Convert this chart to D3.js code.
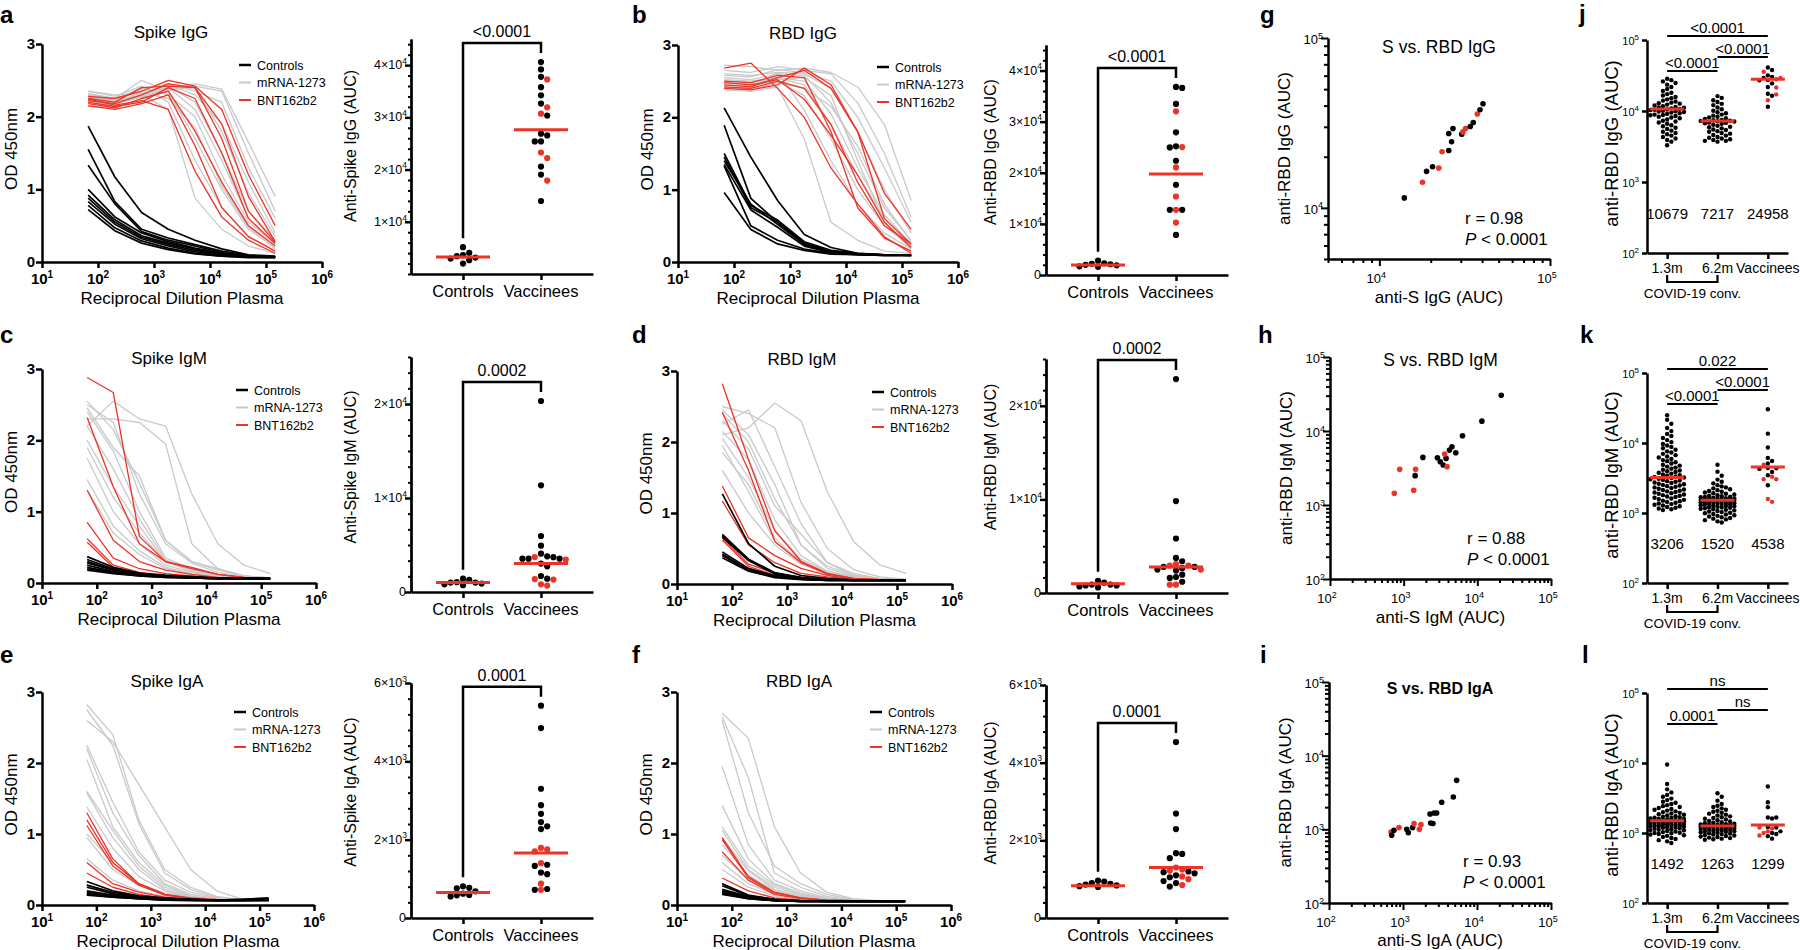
<!DOCTYPE html>
<html><head><meta charset="utf-8">
<script src="https://cdn.jsdelivr.net/npm/d3@7"></script>
<style>
body{margin:0;background:#fff}
svg{font-family:"Liberation Sans",Arial,Helvetica,sans-serif}
</style></head><body>
<svg id="fig" width="1800" height="950"></svg>
<script>
const RED = "#ec3327", GRAY = "#c9c9c9";
// ---------- line chart data (OD450 at each dilution) ----------
const dilutions = [66.7, 200, 600, 1800, 5400, 16200, 48600, 145800];
const decades = [10, 100, 1000, 10000, 100000, 1000000];

const spikeIgG_ctrl = [
[1.87,1.17,0.68,0.45,0.30,0.18,0.10,0.08],[1.55,0.83,0.45,0.33,0.24,0.15,0.09,0.07],
[1.33,0.80,0.42,0.30,0.22,0.13,0.08,0.07],[1.00,0.62,0.40,0.28,0.19,0.12,0.08,0.07],
[0.92,0.58,0.36,0.26,0.18,0.11,0.08,0.07],[0.88,0.55,0.34,0.24,0.16,0.10,0.07,0.07],
[0.83,0.52,0.32,0.22,0.14,0.09,0.07,0.07],[0.78,0.47,0.29,0.19,0.12,0.08,0.07,0.06],
[0.72,0.43,0.26,0.17,0.11,0.08,0.06,0.06]];
const spikeIgG_mrna = [
[2.35,2.30,2.32,2.40,2.45,2.38,1.65,0.90],[2.30,2.25,2.50,2.35,2.42,2.35,1.50,0.70],
[2.28,2.20,2.30,2.45,2.35,2.20,1.30,0.60],[2.25,2.18,2.28,2.38,2.40,1.80,0.95,0.35],
[2.22,2.15,2.35,2.42,2.20,1.50,0.70,0.30],[2.30,2.22,2.40,2.30,2.00,1.20,0.55,0.25],
[2.20,2.12,2.25,2.35,1.70,1.00,0.45,0.20],[2.35,2.28,2.42,2.20,1.40,0.75,0.35,0.15],
[2.26,2.20,2.30,2.10,0.88,0.45,0.22,0.12],[2.32,2.25,2.38,2.45,2.30,1.90,1.10,0.40],
[2.24,2.18,2.27,2.40,2.10,1.40,0.60,0.25],[2.28,2.20,2.33,2.25,1.85,1.05,0.48,0.18]];
const spikeIgG_bnt = [
[2.28,2.25,2.35,2.50,2.42,2.10,1.20,0.50],[2.22,2.18,2.30,2.45,2.40,1.70,0.70,0.27],
[2.20,2.14,2.20,2.40,2.25,1.50,0.60,0.25],[2.18,2.12,2.25,2.35,1.80,1.10,0.50,0.22],
[2.15,2.10,2.18,2.30,1.60,0.75,0.35,0.15],[2.25,2.20,2.40,2.42,2.40,1.90,0.90,0.28],
[2.24,2.16,2.22,2.10,1.25,0.62,0.30,0.12]];

const rbdIgG_ctrl = [
[2.13,1.45,0.85,0.38,0.20,0.12,0.10,0.10],[1.89,0.88,0.55,0.25,0.15,0.11,0.10,0.10],
[1.50,0.78,0.58,0.28,0.16,0.12,0.10,0.10],[1.45,0.75,0.55,0.26,0.15,0.11,0.10,0.09],
[1.40,0.80,0.52,0.24,0.14,0.11,0.10,0.09],[1.35,0.72,0.48,0.22,0.13,0.10,0.09,0.09],
[1.33,0.50,0.30,0.18,0.12,0.10,0.09,0.09],[0.96,0.45,0.25,0.16,0.11,0.10,0.09,0.09]];
const rbdIgG_mrna = [
[2.72,2.70,2.65,2.68,2.62,2.42,1.90,0.85],[2.65,2.62,2.70,2.65,2.60,2.20,1.50,0.62],
[2.60,2.58,2.62,2.60,2.40,1.80,1.00,0.40],[2.55,2.52,2.60,2.58,2.20,1.50,0.75,0.30],
[2.50,2.48,2.55,2.50,2.05,1.30,0.65,0.25],[2.45,2.44,2.50,2.30,1.70,1.00,0.50,0.20],
[2.40,2.40,2.62,2.10,1.40,0.80,0.40,0.18],[2.38,2.36,2.42,1.70,0.55,0.30,0.15,0.12],
[2.52,2.50,2.55,2.45,1.90,1.20,0.60,0.22],[2.42,2.38,2.48,2.40,2.15,1.60,0.80,0.28],
[2.48,2.46,2.52,2.55,2.30,1.40,0.55,0.18],[2.58,2.56,2.66,2.62,2.50,2.00,1.30,0.55]];
const rbdIgG_bnt = [
[2.68,2.75,2.40,2.00,1.30,0.80,0.35,0.12],[2.48,2.45,2.52,2.25,1.75,1.20,0.55,0.20],
[2.45,2.42,2.55,2.65,2.40,1.80,0.95,0.45],[2.42,2.40,2.50,2.40,1.90,1.10,0.50,0.25],
[2.40,2.38,2.45,2.68,2.45,1.80,0.60,0.25],[2.50,2.48,2.58,2.55,1.80,0.75,0.33,0.15]];

const spikeIgM_ctrl = [
[0.37,0.22,0.14,0.11,0.09,0.07,0.06,0.06],[0.33,0.20,0.13,0.10,0.08,0.07,0.06,0.06],
[0.30,0.19,0.12,0.10,0.08,0.07,0.06,0.06],[0.28,0.18,0.12,0.09,0.08,0.07,0.06,0.06],
[0.25,0.16,0.11,0.09,0.07,0.06,0.06,0.06],[0.22,0.15,0.11,0.09,0.07,0.06,0.06,0.06],
[0.20,0.14,0.10,0.08,0.07,0.06,0.06,0.06],[0.18,0.13,0.10,0.08,0.07,0.06,0.06,0.06]];
const spikeIgM_mrna = [
[2.20,2.55,2.30,2.20,1.25,0.55,0.25,0.13],[2.55,2.15,1.40,0.60,0.30,0.18,0.10,0.07],
[2.50,2.25,1.25,0.55,0.28,0.15,0.09,0.07],[2.40,1.85,1.00,0.35,0.20,0.12,0.08,0.06],
[2.30,2.30,2.25,1.95,0.55,0.20,0.10,0.07],[2.20,1.60,0.90,0.32,0.18,0.10,0.08,0.06],
[2.00,1.35,0.80,0.30,0.18,0.10,0.07,0.06],[1.90,1.20,0.70,0.30,0.16,0.10,0.07,0.06],
[1.75,1.00,0.55,0.25,0.15,0.09,0.07,0.06],[1.45,0.80,0.45,0.22,0.13,0.08,0.06,0.06],
[1.30,0.70,0.40,0.20,0.12,0.08,0.06,0.06],[2.45,1.90,1.50,0.60,0.30,0.20,0.10,0.07]];
const spikeIgM_bnt = [
[2.88,2.67,0.65,0.30,0.22,0.12,0.08,0.07],[2.32,1.35,0.55,0.30,0.20,0.12,0.08,0.07],
[1.30,0.60,0.30,0.18,0.12,0.08,0.07,0.06],[0.85,0.35,0.20,0.13,0.10,0.07,0.06,0.06],
[0.62,0.25,0.15,0.10,0.08,0.07,0.06,0.06],[0.57,0.22,0.13,0.09,0.07,0.06,0.06,0.06]];

const rbdIgM_ctrl = [
[1.27,0.57,0.25,0.12,0.08,0.06,0.05,0.05],[0.70,0.35,0.16,0.09,0.06,0.05,0.05,0.05],
[0.68,0.34,0.15,0.09,0.06,0.05,0.05,0.05],[0.66,0.33,0.14,0.08,0.06,0.05,0.05,0.05],
[0.45,0.22,0.12,0.08,0.06,0.05,0.05,0.05],[0.42,0.20,0.11,0.07,0.05,0.05,0.05,0.05],
[0.40,0.19,0.10,0.07,0.05,0.05,0.05,0.05],[0.37,0.18,0.09,0.06,0.05,0.05,0.05,0.05]];
const rbdIgM_mrna = [
[2.10,2.20,2.55,2.30,1.30,0.60,0.27,0.15],[2.25,2.45,1.65,0.85,0.30,0.15,0.08,0.06],
[2.50,2.40,2.20,1.15,0.50,0.20,0.10,0.07],[2.40,2.00,1.20,0.55,0.25,0.13,0.08,0.06],
[2.05,1.50,0.75,0.35,0.18,0.10,0.07,0.06],[1.85,1.40,0.65,0.30,0.15,0.09,0.07,0.06],
[1.60,1.00,0.55,0.28,0.14,0.08,0.06,0.06],[2.15,1.75,0.90,0.40,0.18,0.10,0.07,0.06],
[2.30,1.90,1.10,0.70,0.30,0.12,0.07,0.06],[1.95,1.30,0.60,0.32,0.16,0.09,0.06,0.05],
[2.45,2.10,1.40,0.55,0.22,0.11,0.07,0.06]];
const rbdIgM_bnt = [
[2.82,1.75,0.75,0.32,0.15,0.08,0.06,0.06],[2.42,1.60,0.60,0.30,0.14,0.08,0.06,0.06],
[1.38,0.65,0.40,0.22,0.12,0.07,0.06,0.05],[1.17,0.55,0.30,0.15,0.10,0.07,0.06,0.05],
[0.65,0.28,0.15,0.10,0.07,0.06,0.05,0.05],[0.62,0.25,0.12,0.08,0.06,0.05,0.05,0.05]];

const spikeIgA_ctrl = [
[0.33,0.20,0.13,0.10,0.08,0.07,0.08,0.10],[0.28,0.18,0.12,0.09,0.08,0.07,0.08,0.09],
[0.25,0.16,0.11,0.09,0.08,0.07,0.07,0.09],[0.20,0.14,0.10,0.08,0.07,0.07,0.07,0.08],
[0.18,0.13,0.10,0.08,0.07,0.07,0.07,0.08],[0.16,0.12,0.09,0.08,0.07,0.06,0.07,0.08],
[0.15,0.11,0.09,0.07,0.07,0.06,0.07,0.07],[0.14,0.11,0.09,0.07,0.06,0.06,0.06,0.07]];
const spikeIgA_mrna = [
[2.82,2.40,1.20,0.50,0.25,0.12,0.07,0.05],[2.75,2.25,1.15,0.45,0.22,0.11,0.07,0.05],
[2.60,2.30,1.70,1.10,0.50,0.20,0.08,0.05],[2.25,1.45,0.75,0.35,0.18,0.10,0.07,0.05],
[2.20,1.30,0.70,0.30,0.15,0.09,0.06,0.05],[2.05,1.10,0.60,0.28,0.13,0.08,0.06,0.05],
[1.60,1.05,0.55,0.25,0.12,0.08,0.06,0.05],[1.58,0.95,0.50,0.22,0.11,0.07,0.06,0.05],
[1.38,0.80,0.40,0.20,0.10,0.07,0.06,0.05],[1.00,0.60,0.30,0.17,0.10,0.07,0.06,0.05],
[0.95,0.50,0.28,0.15,0.09,0.07,0.06,0.05],[0.65,0.35,0.20,0.12,0.08,0.07,0.06,0.05]];
const spikeIgA_bnt = [
[1.30,0.65,0.30,0.15,0.10,0.08,0.07,0.06],[1.20,0.60,0.30,0.15,0.09,0.07,0.06,0.06],
[1.12,0.55,0.28,0.14,0.09,0.07,0.06,0.06],[0.60,0.30,0.18,0.11,0.08,0.07,0.06,0.06],
[0.45,0.25,0.15,0.10,0.08,0.07,0.06,0.06],[0.28,0.15,0.10,0.08,0.07,0.06,0.06,0.06]];

const rbdIgA_ctrl = [
[0.30,0.14,0.08,0.06,0.05,0.05,0.05,0.05],[0.27,0.13,0.08,0.06,0.05,0.05,0.05,0.05],
[0.22,0.12,0.07,0.06,0.05,0.05,0.05,0.05],[0.20,0.11,0.07,0.05,0.05,0.05,0.05,0.05],
[0.18,0.10,0.07,0.05,0.05,0.05,0.05,0.05],[0.17,0.10,0.06,0.05,0.05,0.05,0.05,0.05],
[0.16,0.09,0.06,0.05,0.05,0.05,0.05,0.05],[0.15,0.09,0.06,0.05,0.05,0.05,0.05,0.05]];
const rbdIgA_mrna = [
[2.70,2.35,1.10,0.45,0.18,0.09,0.06,0.05],[2.65,1.80,0.45,0.25,0.12,0.07,0.05,0.05],
[2.60,1.30,0.55,0.30,0.15,0.08,0.05,0.05],[1.95,0.85,0.35,0.20,0.10,0.07,0.05,0.05],
[1.40,0.65,0.30,0.17,0.09,0.06,0.05,0.05],[1.10,0.55,0.28,0.15,0.09,0.06,0.05,0.05],
[1.05,0.50,0.25,0.14,0.08,0.06,0.05,0.05],[0.95,0.48,0.22,0.12,0.08,0.06,0.05,0.05],
[0.85,0.42,0.20,0.11,0.07,0.05,0.05,0.05],[0.70,0.35,0.18,0.10,0.07,0.05,0.05,0.05],
[0.60,0.30,0.15,0.09,0.06,0.05,0.05,0.05],[0.50,0.25,0.13,0.08,0.06,0.05,0.05,0.05]];
const rbdIgA_bnt = [
[0.95,0.40,0.18,0.10,0.07,0.06,0.05,0.05],[0.92,0.38,0.17,0.10,0.07,0.06,0.05,0.05],
[0.75,0.35,0.15,0.09,0.07,0.06,0.05,0.05],[0.38,0.20,0.10,0.07,0.06,0.05,0.05,0.05],
[0.30,0.12,0.08,0.06,0.05,0.05,0.05,0.05]];

// ---------- AUC dot plot data ----------
const dotCategories = ["Controls", "Vaccinees"];
const spikeIgG_aucCtrl = [5130,3410,2960,2000,3600,4040,2630,3150];
const spikeIgG_aucVac = [40580,39170,37250,37760,35770,34230,31920,32630,30330,30710,26540,26870,25390,25390,22190,23270,20580,19040,17890,13980];
const spikeIgG_bntFlag = [0,0,1,0,0,0,1,0,0,1,0,0,0,0,1,1,0,0,1,0];
const spikeIgG_median = [3270, 27630];
const rbdIgG_aucCtrl = [2300,2100,1900,1600,1700,2000,2800,2200];
const rbdIgG_aucVac = [36600,36800,33470,32030,27910,25170,24970,25030,22350,21050,17650,15360,12750,12750,12750,10260,7840];
const rbdIgG_bntFlag = [0,0,0,1,0,0,0,1,0,1,0,1,1,0,0,1,0];
const rbdIgG_median = [1960, 19740];
const spikeIgM_aucCtrl = [1280,1000,900,730,820,1000,1050,1420];
const spikeIgM_aucVac = [20320,11350,5960,4930,4080,3800,3700,3720,3550,3550,3540,3450,3020,2730,1700,1420,1380,1320,820,680];
const spikeIgM_bntFlag = [0,0,0,0,0,0,0,1,0,0,0,1,0,0,0,0,1,1,1,1];
const spikeIgM_median = [1000, 3020];
const rbdIgM_aucCtrl = [1100,900,800,600,700,800,900,1300];
const rbdIgM_aucVac = [22860,9820,5820,3750,3390,3100,2930,2930,2790,2790,2650,2500,2500,2400,1960,1700,1610,1200,890,890];
const rbdIgM_bntFlag = [0,0,0,0,0,1,1,1,0,0,0,0,1,0,0,0,0,0,1,1];
const rbdIgM_median = [1000, 2790];
const spikeIgA_aucCtrl = [770,680,810,550,580,620,760,590];
const spikeIgA_aucVac = [5420,4850,3300,2880,2660,2450,2340,2270,1790,1750,1700,1400,1360,1330,1160,1120,876,740,720,720];
const spikeIgA_bntFlag = [0,0,0,0,0,0,0,0,1,1,1,1,0,0,0,0,1,0,1,0];
const spikeIgA_median = [650, 1660];
const rbdIgA_aucCtrl = [960,880,840,800,820,860,940,900];
const rbdIgA_aucVac = [4530,2690,2290,1670,1650,1540,1300,1250,1220,1200,1180,1150,1100,1070,1050,1000,950,900,850,810];
const rbdIgA_bntFlag = [0,0,0,0,0,0,1,1,1,0,0,0,0,1,0,1,0,0,1,0];
const rbdIgA_median = [833, 1300];

// ---------- S vs RBD correlation data ----------
const igG_S = [14000,17900,18900,20500,22300,23300,25500,25500,26500,27000,30400,30900,32000,34100,35500,37500,38900,40500];
const igG_RBD = [11450,14140,16400,17460,17140,21390,21780,27380,24490,29300,27170,28000,29300,30100,31800,35700,37800,41000];
const igG_bnt = [0,1,0,0,1,1,0,0,0,0,0,1,1,0,0,1,0,0];
const igM_S = [746,883,1368,1452,1432,1825,2871,3141,3437,3764,3883,3600,4188,4519,5099,6295,11530,21100];
const igM_RBD = [1442,3034,1581,3034,2494,4395,4353,3847,3469,4266,3296,4878,5521,6124,5083,8610,13590,30400];
const igM_bnt = [1,1,1,1,0,0,0,0,0,0,1,1,0,0,0,0,0,0];
const igA_S = [690,703,755,883,1122,1180,1351,1409,1750,1663,2318,2365,2540,2624,2850,3336,4790,5310];
const igA_RBD = [920,830,968,1055,1000,902,1055,1195,1157,1000,1614,1219,1200,1667,1667,2328,2750,4624];
const igA_bnt = [1,0,0,1,0,0,0,1,1,1,0,0,0,0,0,0,0,0];

// ---------- convalescent vs vaccinee data ----------
const convCategories = ["1.3m", "6.2m", "Vaccinees"];
const igG_conv13 = [28500,27200,26100,24800,23500,21800,20400,19200,18100,17300,16500,15800,15100,14600,14000,13600,13100,12700,12300,12000,11700,11400,11100,10900,10700,10500,10300,10100,9900,9700,9500,9300,9100,8900,8700,8500,8300,8100,7900,7600,7300,7100,6900,6600,6300,6100,5800,5600,5300,5100,4900,4700,4500,4300,4100,3900,3700,3300,12900,9800,11200,8800,10400];
const igG_conv62 = [16200,15300,14200,13400,12600,12100,11200,10600,10100,9600,9300,8900,8600,8300,8100,7900,7700,7500,7400,7300,7200,7100,6900,6800,6600,6400,6200,6000,5900,5700,5500,5400,5200,5100,4900,4800,4600,4500,4300,4200,4100,4000,3900,3800,3800,3700,7250,6700];
const igM_conv13 = [25000,21500,18800,16400,14800,13500,12600,11800,11000,10300,9700,9200,8800,8400,8000,7600,7300,7000,6700,6400,6200,5900,5700,5500,5300,5100,4900,4750,4600,4450,4300,4150,4050,3950,3850,3750,3650,3560,3480,3400,3330,3260,3210,3150,3090,3030,2970,2910,2850,2790,2730,2680,2620,2570,2520,2470,2420,2370,2320,2270,2220,2170,2130,2080,2040,2000,1960,1920,1880,1840,1800,1760,1720,1690,1650,1610,1580,1540,1500,1470,1440,1400,1370,1340,1310,1280,1250,1220,1190,1160,1130,1100];
const igM_conv62 = [4900,3900,3400,3000,2800,2650,2500,2400,2320,2250,2180,2120,2060,2010,1960,1920,1880,1840,1800,1770,1740,1710,1680,1650,1630,1610,1590,1570,1550,1530,1510,1490,1470,1450,1430,1410,1390,1370,1350,1330,1310,1290,1270,1250,1230,1210,1190,1170,1150,1130,1110,1090,1070,1050,1030,1010,990,970,950,930,910,890,870,850,830,810,790,760,730,1600,1520,1480,1560,1440,1620,1700,1380,1260,1340,1200];
const igA_conv13 = [9500,5000,4200,3800,3500,3300,3100,2950,2800,2700,2600,2500,2420,2350,2280,2210,2150,2090,2040,1990,1940,1900,1860,1820,1780,1740,1710,1680,1650,1620,1590,1560,1530,1510,1490,1470,1450,1430,1410,1390,1370,1350,1330,1310,1290,1270,1250,1230,1210,1190,1170,1150,1130,1110,1090,1070,1050,1030,1010,990,970,950,930,910,880,850,820,790,760,720,1500,1520,1480,1460,1540,1420,1360,1280,1320,1200,1100,1000,1250,1600,1640];
const igA_conv62 = [3700,3300,2900,2600,2450,2350,2250,2150,2080,2010,1950,1890,1830,1780,1730,1680,1640,1600,1560,1520,1490,1460,1430,1400,1380,1360,1340,1320,1300,1280,1260,1240,1220,1200,1180,1160,1140,1120,1100,1085,1070,1055,1040,1025,1010,995,980,965,950,935,920,905,890,875,860,845,830,815,800,1270,1250,1230,1290,1310,1210,1190,1150,1330,1110,1060];
const igG_convLine = [10679, 7217, 28000], igG_convLabel = ["10679", "7217", "24958"];
const igM_convLine = [3206, 1520, 4538], igM_convLabel = ["3206", "1520", "4538"];
const igA_convLine = [1492, 1263, 1299], igA_convLabel = ["1492", "1263", "1299"];
const igG_pvals = ["<0.0001", "<0.0001", "<0.0001"];
const igM_pvals = ["0.022", "<0.0001", "<0.0001"];
const igA_pvals = ["ns", "ns", "0.0001"];

// ================= drawing =================
const svg = d3.select("#fig");

function styleAxis(g, w) {
  g.select(".domain").attr("stroke", "#000").attr("stroke-width", w);
  g.selectAll(".tick line").attr("stroke", "#000").attr("stroke-width", w);
}
function txt(p, x, y, s, o = {}) {
  const t = p.append("text").attr("x", x).attr("y", y).attr("font-size", o.size || 14)
    .attr("text-anchor", o.anchor || "start").attr("fill", o.fill || "#000");
  if (o.weight) t.attr("font-weight", o.weight);
  if (o.style) t.attr("font-style", o.style);
  t.text(s);
  return t;
}
function supText(p, x, y, base, sup, size, supSize, anchor, weight) {
  const t = p.append("text").attr("x", x).attr("y", y).attr("font-size", size).attr("text-anchor", anchor);
  if (weight) t.attr("font-weight", weight);
  t.append("tspan").text(base);
  t.append("tspan").attr("font-size", supSize).attr("dy", -size * 0.42).text(sup);
  return t;
}
function vtext(p, cx, cy, s, size) {
  return p.append("text").attr("transform", `translate(${cx},${cy}) rotate(-90)`)
    .attr("text-anchor", "middle").attr("dy", "0.35em").attr("font-size", size).text(s);
}
function letter(x, y, s) { txt(svg, x, y, s, { size: 24, weight: "bold" }); }

function swarmX(vals, yFn, cx, r, step, maxOff) {
  const order = d3.range(vals.length).sort((a, b) => d3.descending(vals[a], vals[b]));
  const placed = [], xs = new Array(vals.length);
  const cands = [0];
  for (let k = 1; k <= Math.floor(maxOff / step); k++) cands.push(k * step, -k * step);
  const minD = 2 * r * 0.98;
  for (const i of order) {
    const py = yFn(vals[i]);
    let chosen = null, bestX = cx, bestD = -1;
    for (const c of cands) {
      const px = cx + c;
      let dmin = Infinity;
      for (const q of placed) { const d = Math.hypot(q[0] - px, q[1] - py); if (d < dmin) dmin = d; }
      if (dmin >= minD) { chosen = px; break; }
      if (dmin > bestD) { bestD = dmin; bestX = px; }
    }
    if (chosen === null) chosen = bestX;
    placed.push([chosen, py]); xs[i] = chosen;
  }
  return xs;
}

// ---- line chart ----
function lineChart(L, title, ctrl, mrna, bnt) {
  const g = svg.append("g");
  const x = d3.scaleLog().domain([10, 1e6]).range([L.x0, L.x1]);
  const y = d3.scaleLinear().domain([0, 3]).range([L.yBot, L.yTop]);
  const line = d3.line().x((d, i) => x(dilutions[i])).y(d => y(d));
  const sets = [[mrna, GRAY, 1.3], [bnt, RED, 1.3], [ctrl, "#000", 1.7]];
  sets.forEach(([data, col, w]) => {
    g.append("g").selectAll("path").data(data).join("path")
      .attr("d", line).attr("fill", "none").attr("stroke", col).attr("stroke-width", w)
      .attr("stroke-linejoin", "round");
  });
  const xa = g.append("g").attr("transform", `translate(0,${L.yBot})`)
    .call(d3.axisBottom(x).tickValues(decades).tickFormat("").tickSize(6).tickSizeOuter(0));
  styleAxis(xa, 2.5);
  const ya = g.append("g").attr("transform", `translate(${L.x0},0)`)
    .call(d3.axisLeft(y).tickValues([0, 1, 2, 3]).tickFormat("").tickSize(6).tickSizeOuter(0));
  styleAxis(ya, 2.5);
  decades.forEach(d => supText(g, x(d), L.yBot + 22, "10", Math.round(Math.log10(d)), 15, 10, "middle", "bold"));
  [0, 1, 2, 3].forEach(v => txt(g, L.x0 - 7, y(v) + 5, v, { size: 15, anchor: "end", weight: "bold" }));
  txt(g, (L.x0 + L.x1) / 2, L.yBot + 42, "Reciprocal Dilution Plasma", { size: 17, anchor: "middle" });
  vtext(g, L.x0 - 31, (L.yTop + L.yBot) / 2 - 4, "OD 450nm", 17);
  txt(g, L.tx, L.ty + 6, title, { size: 17, anchor: "middle" });
  const leg = [["Controls", "#000", 2.5], ["mRNA-1273", GRAY, 2], ["BNT162b2", RED, 2]];
  leg.forEach(([name, col, w], i) => {
    const yy = L.ly + i * 17.5;
    g.append("line").attr("x1", L.lx).attr("x2", L.lx + 12).attr("y1", yy).attr("y2", yy)
      .attr("stroke", col).attr("stroke-width", w);
    txt(g, L.lx + 18, yy + 4.5, name, { size: 12.5 });
  });
}

// ---- AUC dot plot ----
function dotPlot(D, ctrl, vac, flags, med, ylab, pval) {
  const g = svg.append("g");
  const y = d3.scaleLinear().domain([0, D.max]).range([D.yBot, D.yTop]);
  const x = d3.scalePoint().domain(dotCategories).range([D.ax, D.x1]).padding(0.667);
  const minors = d3.range(0, D.max + 1e-6, D.minor).filter(v => !D.majors.some(m => Math.abs(m - v) < 1e-6));
  const ym = g.append("g").attr("transform", `translate(${D.ax},0)`)
    .call(d3.axisLeft(y).tickValues(minors).tickFormat("").tickSize(3).tickSizeOuter(0));
  styleAxis(ym, 2);
  const ya = g.append("g").attr("transform", `translate(${D.ax},0)`)
    .call(d3.axisLeft(y).tickValues(D.majors).tickFormat("").tickSize(6).tickSizeOuter(0));
  styleAxis(ya, 2.5);
  const xa = g.append("g").attr("transform", `translate(0,${D.yBot})`)
    .call(d3.axisBottom(x).tickFormat("").tickSize(6).tickSizeOuter(0));
  styleAxis(xa, 2.5);
  D.majors.forEach(v => {
    if (v === 0) { txt(g, D.ax - 5, y(v) + 4, "0", { size: 12.5, anchor: "end" }); return; }
    supText(g, D.ax - 4, y(v) + 4, (v / Math.pow(10, D.exp)) + "×10", D.exp, 12.5, 8.5, "end");
  });
  dotCategories.forEach(c => txt(g, x(c), D.yBot + 23, c, { size: 16.5, anchor: "middle" }));
  vtext(g, D.ytx, D.yty, ylab, 16);
  // bracket
  const cTop = y(d3.max(ctrl)), vTop = y(d3.max(vac));
  const bTop = vTop - 19;
  g.append("path").attr("d", `M${x("Controls")},${cTop - 9}V${bTop}H${x("Vaccinees")}V${vTop - 9}`)
    .attr("fill", "none").attr("stroke", "#000").attr("stroke-width", 2.5);
  txt(g, (x("Controls") + x("Vaccinees")) / 2, bTop - 6, pval, { size: 16, anchor: "middle" });
  // dots
  const r = 3.1;
  const cx = swarmX(ctrl, y, x("Controls"), r, 6.2, 30);
  g.append("g").selectAll("circle").data(ctrl).join("circle")
    .attr("cx", (d, i) => cx[i]).attr("cy", d => y(d)).attr("r", r).attr("fill", "#000");
  const vx = swarmX(vac, y, x("Vaccinees"), r, 6.2, 30);
  g.append("g").selectAll("circle").data(vac).join("circle")
    .attr("cx", (d, i) => vx[i]).attr("cy", d => y(d)).attr("r", r)
    .attr("fill", (d, i) => flags[i] ? RED : "#000");
  dotCategories.forEach((c, i) => {
    g.append("line").attr("x1", x(c) - 27).attr("x2", x(c) + 27).attr("y1", y(med[i])).attr("y2", y(med[i]))
      .attr("stroke", RED).attr("stroke-width", 3);
  });
}

function logTicks(dom) {
  const out = [];
  for (let e = Math.floor(Math.log10(dom[0])); e <= Math.ceil(Math.log10(dom[1])); e++)
    for (let m = 1; m < 10; m++) { const v = m * Math.pow(10, e); if (v >= dom[0] - 1e-9 && v <= dom[1] + 1e-9) out.push({ v, major: m === 1, e }); }
  return out;
}

// ---- scatter (S vs RBD) ----
function scatter(S, xv, yv, flags, title, bold, xlab, ylab, rTxt) {
  const g = svg.append("g");
  const x = d3.scaleLog().domain(S.dom).range([S.x0, S.x1]);
  const y = d3.scaleLog().domain(S.dom).range([S.yBot, S.yTop]);
  const tk = logTicks(S.dom);
  const majors = tk.filter(t => t.major).map(t => t.v), minors = tk.filter(t => !t.major).map(t => t.v);
  [[minors, 4], [majors, 7]].forEach(([vals, size]) => {
    const xa = g.append("g").attr("transform", `translate(0,${S.yBot})`)
      .call(d3.axisBottom(x).tickValues(vals).tickFormat("").tickSize(size).tickSizeOuter(0));
    styleAxis(xa, 2);
    const ya = g.append("g").attr("transform", `translate(${S.x0},0)`)
      .call(d3.axisLeft(y).tickValues(vals).tickFormat("").tickSize(size).tickSizeOuter(0));
    styleAxis(ya, 2);
  });
  tk.filter(t => t.major).forEach(t => {
    supText(g, x(t.v) - 3, S.yBot + 24, "10", t.e, 13, 9, "middle");
    supText(g, S.x0 - 5, y(t.v) + 6, "10", t.e, 13, 9, "end");
  });
  g.append("g").selectAll("circle").data(xv).join("circle")
    .attr("cx", d => x(d)).attr("cy", (d, i) => y(yv[i])).attr("r", 2.8)
    .attr("fill", (d, i) => flags[i] ? RED : "#000");
  txt(g, (S.x0 + S.x1) / 2, S.ty + 6, title, { size: bold ? 16 : 17.5, anchor: "middle", weight: bold ? "bold" : null });
  txt(g, S.rx, S.ry + 6, rTxt, { size: 17 });
  const pt = g.append("text").attr("x", S.rx).attr("y", S.ry + 27).attr("font-size", 17);
  pt.append("tspan").attr("font-style", "italic").text("P");
  pt.append("tspan").text(" < 0.0001");
  txt(g, (S.x0 + S.x1) / 2, S.xty + 6, xlab, { size: 17, anchor: "middle" });
  vtext(g, S.x0 - 44, (S.yTop + S.yBot) / 2, ylab, 17);
}

// ---- convalescent vs vaccinees ----
function convPlot(C, groups, lines, labels, pvals, ylab) {
  const g = svg.append("g");
  const y = d3.scaleLog().domain([100, 1e5]).range([C.yBot, C.yTop]);
  const x = d3.scalePoint().domain(convCategories).range([C.ax, C.x1]).padding(0.4);
  const ya = g.append("g").attr("transform", `translate(${C.ax},0)`)
    .call(d3.axisLeft(y).tickValues([100, 1000, 10000, 100000]).tickFormat("").tickSize(5).tickSizeOuter(0));
  styleAxis(ya, 2.5);
  const xa = g.append("g").attr("transform", `translate(0,${C.yBot})`)
    .call(d3.axisBottom(x).tickFormat("").tickSize(6).tickSizeOuter(0));
  styleAxis(xa, 2.5);
  [2, 3, 4, 5].forEach(e => supText(g, C.ax - 8, y(Math.pow(10, e)) + 5, "10", e, 11, 8, "end"));
  convCategories.forEach(c => txt(g, x(c), C.yBot + 20, c, { size: 14, anchor: "middle" }));
  g.append("path").attr("d", `M${x("1.3m")},${C.yBot + 22}V${C.yBot + 29}H${x("6.2m")}V${C.yBot + 22}`)
    .attr("fill", "none").attr("stroke", "#000").attr("stroke-width", 2.2);
  txt(g, (x("1.3m") + x("6.2m")) / 2, C.yBot + 45, "COVID-19 conv.", { size: 13.5, anchor: "middle" });
  vtext(g, C.ax - 35, (C.yTop + C.yBot) / 2 - 3, ylab, 18.5);
  // dots
  groups.forEach((grp, gi) => {
    const c = x(convCategories[gi]);
    const xs = swarmX(grp.vals, y, c, 2.2, 4.2, 17);
    g.append("g").selectAll("circle").data(grp.vals).join("circle")
      .attr("cx", (d, i) => xs[i]).attr("cy", d => y(d)).attr("r", 2.2)
      .attr("fill", (d, i) => grp.flags && grp.flags[i] ? RED : "#000");
    g.append("line").attr("x1", c - 17).attr("x2", c + 17).attr("y1", y(lines[gi])).attr("y2", y(lines[gi]))
      .attr("stroke", RED).attr("stroke-width", 3);
    txt(g, c, C.yBot - 34, labels[gi], { size: 15, anchor: "middle" });
  });
  // comparison bars
  const pairs = [["1.3m", "Vaccinees", -4], ["6.2m", "Vaccinees", 17], ["1.3m", "6.2m", 31]];
  pairs.forEach(([a, b, off], i) => {
    const yy = C.yTop + off;
    g.append("line").attr("x1", x(a)).attr("x2", x(b)).attr("y1", yy).attr("y2", yy)
      .attr("stroke", "#000").attr("stroke-width", 2.2);
    txt(g, (x(a) + x(b)) / 2, yy - 3, pvals[i], { size: 15, anchor: "middle" });
  });
}

// ---------- layout & calls ----------
letter(0, 22.5, "a"); letter(632, 22.5, "b"); letter(1260, 22.5, "g"); letter(1579, 22, "j");
letter(0, 343, "c"); letter(632, 343, "d"); letter(1258, 343, "h"); letter(1580, 343, "k");
letter(0, 663, "e"); letter(632, 663, "f"); letter(1260, 663, "i"); letter(1582, 663, "l");

lineChart({ x0: 42, x1: 322, yTop: 44, yBot: 262, tx: 171, ty: 32, lx: 239, ly: 65 }, "Spike IgG", spikeIgG_ctrl, spikeIgG_mrna, spikeIgG_bnt);
lineChart({ x0: 678, x1: 958, yTop: 45, yBot: 262, tx: 803, ty: 33, lx: 877, ly: 67 }, "RBD IgG", rbdIgG_ctrl, rbdIgG_mrna, rbdIgG_bnt);
lineChart({ x0: 42, x1: 316, yTop: 369, yBot: 583, tx: 169, ty: 358, lx: 236, ly: 390 }, "Spike IgM", spikeIgM_ctrl, spikeIgM_mrna, spikeIgM_bnt);
lineChart({ x0: 677, x1: 952, yTop: 371, yBot: 584, tx: 802, ty: 359, lx: 872, ly: 392 }, "RBD IgM", rbdIgM_ctrl, rbdIgM_mrna, rbdIgM_bnt);
lineChart({ x0: 42, x1: 314, yTop: 692, yBot: 905, tx: 167, ty: 681, lx: 234, ly: 712 }, "Spike IgA", spikeIgA_ctrl, spikeIgA_mrna, spikeIgA_bnt);
lineChart({ x0: 677, x1: 951, yTop: 692, yBot: 905, tx: 799, ty: 681, lx: 870, ly: 712 }, "RBD IgA", rbdIgA_ctrl, rbdIgA_mrna, rbdIgA_bnt);

dotPlot({ ax: 411, x1: 593, yTop: 39, yBot: 274, max: 45000, majors: [10000, 20000, 30000, 40000], minor: 2000, exp: 4, ytx: 350, yty: 146 },
  spikeIgG_aucCtrl, spikeIgG_aucVac, spikeIgG_bntFlag, spikeIgG_median, "Anti-Spike IgG (AUC)", "<0.0001");
dotPlot({ ax: 1046, x1: 1228, yTop: 45, yBot: 275, max: 45000, majors: [0, 10000, 20000, 30000, 40000], minor: 2000, exp: 4, ytx: 990, yty: 152 },
  rbdIgG_aucCtrl, rbdIgG_aucVac, rbdIgG_bntFlag, rbdIgG_median, "Anti-RBD IgG (AUC)", "<0.0001");
dotPlot({ ax: 411, x1: 593, yTop: 357, yBot: 592, max: 25000, majors: [0, 10000, 20000], minor: 10000 / 6, exp: 4, ytx: 350, yty: 467 },
  spikeIgM_aucCtrl, spikeIgM_aucVac, spikeIgM_bntFlag, spikeIgM_median, "Anti-Spike IgM (AUC)", "0.0002");
dotPlot({ ax: 1046, x1: 1228, yTop: 359, yBot: 593, max: 25000, majors: [0, 10000, 20000], minor: 10000 / 6, exp: 4, ytx: 990, yty: 457 },
  rbdIgM_aucCtrl, rbdIgM_aucVac, rbdIgM_bntFlag, rbdIgM_median, "Anti-RBD IgM (AUC)", "0.0002");
dotPlot({ ax: 411, x1: 593, yTop: 683, yBot: 918, max: 6000, majors: [0, 2000, 4000, 6000], minor: 400, exp: 3, ytx: 350, yty: 792 },
  spikeIgA_aucCtrl, spikeIgA_aucVac, spikeIgA_bntFlag, spikeIgA_median, "Anti-Spike IgA (AUC)", "0.0001");
dotPlot({ ax: 1046, x1: 1228, yTop: 685, yBot: 918, max: 6000, majors: [0, 2000, 4000, 6000], minor: 400, exp: 3, ytx: 990, yty: 793 },
  rbdIgA_aucCtrl, rbdIgA_aucVac, rbdIgA_bntFlag, rbdIgA_median, "Anti-RBD IgA (AUC)", "0.0001");

scatter({ x0: 1328, x1: 1550, yTop: 38, yBot: 259, dom: [5000, 1e5], ty: 47, rx: 1465, ry: 218, xty: 297 },
  igG_S, igG_RBD, igG_bnt, "S vs. RBD IgG", false, "anti-S IgG (AUC)", "anti-RBD IgG (AUC)", "r = 0.98");
scatter({ x0: 1330, x1: 1551, yTop: 357, yBot: 579, dom: [100, 1e5], ty: 360, rx: 1467, ry: 538, xty: 617 },
  igM_S, igM_RBD, igM_bnt, "S vs. RBD IgM", false, "anti-S IgM (AUC)", "anti-RBD IgM (AUC)", "r = 0.88");
scatter({ x0: 1329, x1: 1551, yTop: 682, yBot: 903, dom: [100, 1e5], ty: 688, rx: 1463, ry: 861, xty: 940 },
  igA_S, igA_RBD, igA_bnt, "S vs. RBD IgA", true, "anti-S IgA (AUC)", "anti-RBD IgA (AUC)", "r = 0.93");

convPlot({ ax: 1647, x1: 1788, yTop: 40, yBot: 253 },
  [{ vals: igG_conv13 }, { vals: igG_conv62 }, { vals: igG_RBD, flags: igG_bnt }], igG_convLine, igG_convLabel, igG_pvals, "anti-RBD IgG (AUC)");
convPlot({ ax: 1647, x1: 1788, yTop: 373, yBot: 583 },
  [{ vals: igM_conv13 }, { vals: igM_conv62 }, { vals: igM_RBD, flags: igM_bnt }], igM_convLine, igM_convLabel, igM_pvals, "anti-RBD IgM (AUC)");
convPlot({ ax: 1647, x1: 1788, yTop: 693, yBot: 903 },
  [{ vals: igA_conv13 }, { vals: igA_conv62 }, { vals: igA_RBD, flags: igA_bnt }], igA_convLine, igA_convLabel, igA_pvals, "anti-RBD IgA (AUC)");
</script>
</body></html>
